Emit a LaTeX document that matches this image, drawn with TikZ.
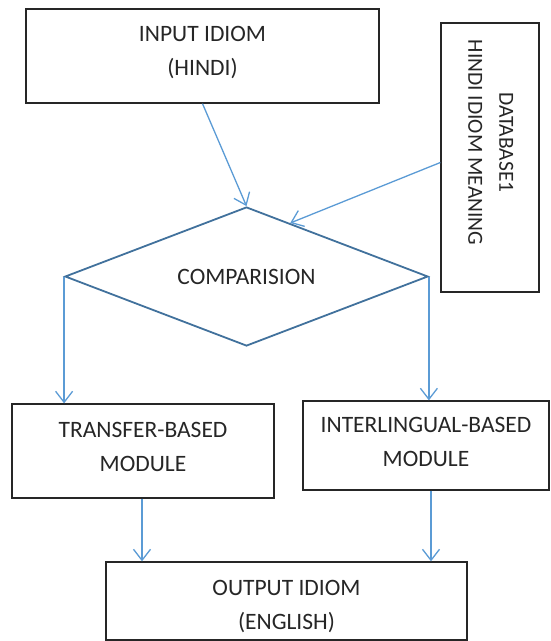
\documentclass[tikz,border=0pt]{standalone}
\usepackage{fontspec}
\setmainfont{Carlito}
\usetikzlibrary{shapes.geometric,arrows.meta,calc}
\definecolor{arrowblue}{RGB}{91,155,213}
\definecolor{diablue}{RGB}{65,113,156}
\newcommand{\shiftup}[2]{\raisebox{#1}[\height][\depth]{#2}}
\begin{document}
\begin{tikzpicture}[x=1pt,y=-1pt,
 box/.style={draw=black!85,line width=1.3pt,inner sep=0pt,align=center,
   font=\fontsize{23.5}{33.5}\selectfont,text=black!85},
 decision/.style={diamond,draw=diablue,line width=1.8pt,inner sep=0pt,aspect=2.6,
   font=\fontsize{23.5}{33.5}\selectfont,text=black!85},
 flow/.style={draw=arrowblue,line width=1.3pt,
   -{Straight Barb[length=11pt,width=17pt,line width=1.3pt]}},
]
\useasboundingbox (0,0) rectangle (551,641);
\node[box,minimum width=353pt,minimum height=94pt] (input) at (202.5,56)
  {\shiftup{4pt}{\begin{tabular}{@{}c@{}}INPUT IDIOM\\(HINDI)\end{tabular}}};
\node[box,minimum width=98pt,minimum height=269pt,font=\fontsize{21.5}{31}\selectfont] (db) at (490,157.5)
  {\rotatebox{-90}{\begin{tabular}{@{}c@{\hspace{30pt}}}DATABASE1\\HINDI IDIOM MEANING\end{tabular}}};
\node[decision,minimum width=363pt,minimum height=139pt] (cmp) at (246.5,276.5) {COMPARISION};
\node[box,minimum width=262pt,minimum height=94pt] (tr) at (143,451)
  {\shiftup{3pt}{\begin{tabular}{@{}c@{}}TRANSFER-BASED\\MODULE\end{tabular}}};
\node[box,minimum width=246pt,minimum height=89pt] (il) at (426,445.5)
  {\shiftup{2.5pt}{\begin{tabular}{@{}c@{}}INTERLINGUAL-BASED\\MODULE\end{tabular}}};
\node[box,minimum width=361pt,minimum height=78pt] (out) at (286.5,601)
  {\shiftup{-5pt}{\begin{tabular}{@{}c@{}}OUTPUT IDIOM\\(ENGLISH)\end{tabular}}};
\draw[flow] (input.south) -- (cmp.north);
\draw[flow] ($(db.west)+(0,5)$) -- ($(cmp.north)!0.24!(cmp.east)$);
\draw[flow] (cmp.west) -- (cmp.west |- tr.north);
\draw[flow] (cmp.east) -- (cmp.east |- il.north);
\draw[flow] ([xshift=-1pt]tr.south) -- ([xshift=-1pt]tr.south |- out.north);
\draw[flow] ([xshift=5pt]il.south) -- ([xshift=5pt]il.south |- out.north);
\end{tikzpicture}
\end{document}
